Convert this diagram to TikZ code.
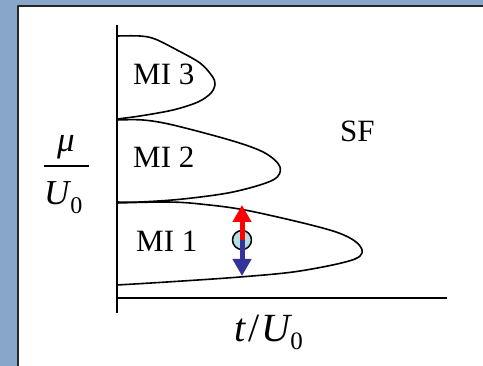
\documentclass[tikz,border=0pt]{standalone}
\usepackage{fontspec}
\setmainfont{Liberation Serif}
\usetikzlibrary{arrows.meta}
\definecolor{bgblue}{RGB}{135,166,201}
\definecolor{dotfill}{RGB}{180,222,224}
\definecolor{arrblue}{RGB}{51,51,153}
\begin{document}
\begin{tikzpicture}[x=1pt,y=-1pt,line join=round,
  axisline/.style={line width=1.8pt},
  lobe/.style={line width=1.6pt},
  lbl/.style={inner sep=0pt,font=\fontsize{31}{31}\selectfont},
  axlbl/.style={inner sep=0pt,font=\fontsize{35}{35}\selectfont},
  redarrow/.style={draw=red,line width=5pt,-{Triangle[width=18pt,length=17pt]}},
  bluearrow/.style={draw=arrblue,line width=5pt,-{Triangle[width=18pt,length=17pt]}},
  dotstyle/.style={circle,draw=black,line width=1.5pt,fill=dotfill,minimum size=19pt,inner sep=0pt}]
\useasboundingbox (0,0) rectangle (483,366);
\fill[bgblue] (0,0) rectangle (483,366);
\fill[white] (18,6) rectangle (483,366);
\draw[line width=2pt,black!85] (18,366) -- (18,6) -- (483,6);
% axes
\coordinate (ytop) at (117,25);
\coordinate (ybot) at (117,313);
\coordinate (xl) at (117,298);
\coordinate (xr) at (447,298);
\draw[axisline] (ytop) -- (ybot);
\draw[axisline] (xl) -- (xr);
% lobes
\draw[lobe] plot[smooth,tension=0.55] coordinates {(117,36) (140,36) (155,39) (177,50) (200,63) (212,76) (215,84) (211,93) (198,102) (173,110) (140,116) (117,119)};
\draw[lobe] plot[smooth,tension=0.55] coordinates {(117,120) (143,120) (173,125) (233,141) (265,153) (280,167) (273,180) (233,192) (183,199) (140,202) (117,202)};
\draw[lobe] plot[smooth,tension=0.55] coordinates {(117,203) (167,202) (200,204) (250,211) (333,231) (360,246) (355,259) (300,271) (240,277) (167,282) (117,285)};
% labels
\node[lbl,anchor=base west] (mi3) at (133,85) {MI 3};
\node[lbl,anchor=base west] (mi2) at (133,168) {MI 2};
\node[lbl,anchor=base west] (mi1) at (136,252) {MI 1};
\node[lbl,anchor=base west] (sf) at (340,142) {SF};
% vertical axis label
\node[axlbl,anchor=base] (mu) at (66,152) {\itshape μ};
\coordinate (fracl) at (44,166);
\coordinate (fracr) at (89,166);
\draw[line width=1.4pt] (fracl) -- (fracr);
\node[axlbl,anchor=base west] (u0) at (44,205) {\itshape U\kern1pt\raisebox{-9pt}{\upshape\fontsize{24}{24}\selectfont 0}};
% horizontal axis label
\node[inner sep=0pt,font=\fontsize{40}{40}\selectfont,anchor=base west] (tu0) at (234,342) {\itshape t\kern3pt\upshape/\kern2pt\itshape U\raisebox{-8pt}{\upshape\fontsize{25}{25}\selectfont 0}};
% dot and arrows
\node[dotstyle] (dot) at (242,240) {};
\coordinate (uptip) at (242,205);
\coordinate (downtip) at (242,276);
\draw[bluearrow] (dot.center) -- (downtip);
\draw[redarrow] (dot.center) -- (uptip);
\end{tikzpicture}
\end{document}
